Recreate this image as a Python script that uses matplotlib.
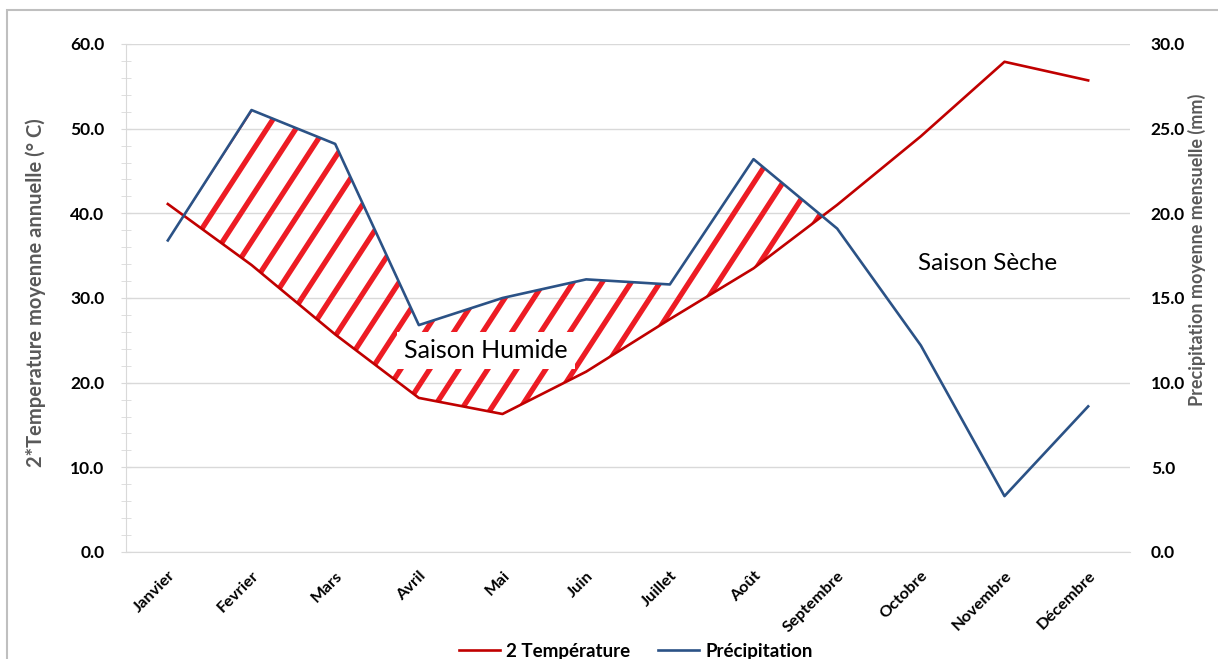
import matplotlib.pyplot as plt
import numpy as np
from matplotlib.patches import PathPatch, Rectangle
from matplotlib.lines import Line2D

plt.rcParams['font.family'] = ['Lato', 'DejaVu Sans']

mois = ["Janvier", "Fevrier", "Mars", "Avril", "Mai", "Juin", "Juillet",
        "Août", "Septembre", "Octobre", "Novembre", "Décembre"]
temp2 = [41.1, 33.9, 25.7, 18.2, 16.3, 21.3, 27.5, 33.5, 41.0, 49.1, 57.9, 55.7]
precip = [18.4, 26.1, 24.1, 13.4, 15.0, 16.1, 15.8, 23.2, 19.1, 12.2, 3.3, 8.6]

W, H = 1218, 659
fig = plt.figure(figsize=(W / 100, H / 100), dpi=100)
ax_l, ax_r, ax_b, ax_t = 126 / W, 1130 / W, (H - 552) / H, (H - 44) / H
ax = fig.add_axes([ax_l, ax_b, ax_r - ax_l, ax_t - ax_b])
ax2 = ax.twinx()

# outer chart frame
fig.patches.append(Rectangle((7 / W, -0.1), 1.1, (H - 10) / H + 0.1,
                             transform=fig.transFigure, fill=False,
                             edgecolor='#BFBFBF', linewidth=1.5))

x = np.arange(len(mois))
t = np.array(temp2)
p2 = np.array(precip) * 2  # precipitation on the left scale

red = '#C00000'
blue = '#2B5286'

# wet season: hatched area where 2*T < P
fb = ax.fill_between(x, t, p2, where=p2 > t, interpolate=True,
                     facecolor='none', edgecolor='none')
clip = PathPatch(fb.get_paths()[0], transform=ax.transData,
                 facecolor='none', edgecolor='none')
ax.add_patch(clip)

ax_w_px = (ax_r - ax_l) * W
ax_h_px = (ax_t - ax_b) * H
ang = np.deg2rad(57)
dx, dy = np.cos(ang) * 600 / ax_w_px, np.sin(ang) * 600 / ax_h_px
for x0 in np.arange(-1.0, 1.5, 29 / ax_w_px):
    ln = Line2D([x0, x0 + dx], [0, dy], transform=ax.transAxes,
                color='#ED1C24', linewidth=3.8, solid_capstyle='round', zorder=2)
    ax.add_line(ln)
    ln.set_clip_path(clip)

ax.plot(x, t, color=red, linewidth=1.9, zorder=3, label='2 Température')
ax2.plot(x, precip, color=blue, linewidth=1.9, zorder=3, label='Précipitation')

ax.set_xlim(-0.5, len(mois) - 0.5)
ax.set_ylim(0, 60)
ax2.set_ylim(0, 30)
ax.set_yticks(np.arange(0, 61, 10))
ax.set_yticks(np.arange(0, 61, 2), minor=True)
ax2.set_yticks(np.arange(0, 31, 5))
ax.yaxis.set_major_formatter(lambda v, pos: f"{v:.1f}")
ax2.yaxis.set_major_formatter(lambda v, pos: f"{v:.1f}")

ax.grid(axis='y', color='#D9D9D9', linewidth=1)
ax.set_axisbelow(True)
for a in (ax, ax2):
    for s in ('top', 'right', 'left'):
        a.spines[s].set_visible(False)
ax.spines['left'].set_visible(True)
ax.spines['left'].set_color('#D9D9D9')
ax.spines['bottom'].set_color('#D9D9D9')
ax2.spines['bottom'].set_visible(False)

ax.tick_params(axis='y', which='major', length=7, direction='inout',
               color='#D9D9D9', pad=12, labelsize=12.5)
ax.tick_params(axis='y', which='minor', length=7, direction='inout',
               color='#D9D9D9')
ax2.tick_params(axis='y', length=0, pad=15, labelsize=12.5)
ax.tick_params(axis='x', length=0, pad=12)
for lab in ax.get_yticklabels() + ax2.get_yticklabels():
    lab.set_fontweight('bold')

ax.set_xticks(x)
ax.set_xticklabels(mois, rotation=45, ha='right', rotation_mode='anchor',
                   fontsize=11.8, fontweight='bold')

ax.set_ylabel("2*Temperature moyenne annuelle (° C)", color='#595959',
              fontsize=14.5, fontweight='bold')
ax.yaxis.set_label_coords(-80 / ax_w_px, 0.51)
ax2.set_ylabel("Precipitation moyenne mensuelle (mm)", color='#595959',
               fontsize=13, fontweight='bold')
ax2.yaxis.set_label_coords(1 + 58 / ax_w_px, 0.594)

fig.text(486 / W, (H - 350) / H, "Saison Humide", fontsize=18,
         ha='center', va='center', zorder=5,
         bbox=dict(facecolor='white', edgecolor='none', pad=5))
fig.text(988 / W, (H - 263) / H, "Saison Sèche", fontsize=17.5,
         ha='center', va='center')

h1, l1 = ax.get_legend_handles_labels()
h2, l2 = ax2.get_legend_handles_labels()
fig.legend(h1 + h2, l1 + l2, loc='center', bbox_to_anchor=(0.522, (H - 651) / H),
           ncol=2, frameon=False, prop={'weight': 'bold', 'size': 13.5},
           handlelength=2.2, columnspacing=1.5, handletextpad=0.3)

fig.savefig("out.png", dpi=100)
